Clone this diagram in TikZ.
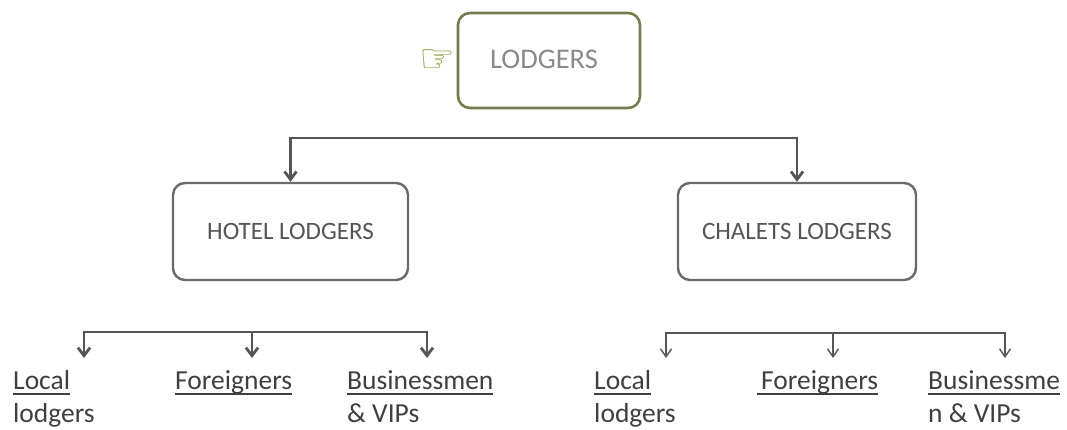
\documentclass[tikz,border=0pt]{standalone}
\usepackage{fontspec}
\setmainfont{Carlito}
\newfontfamily\symfont{DejaVu Sans}
\usetikzlibrary{arrows.meta}
\newsavebox\ulbox
\newcommand\myul[1]{\sbox\ulbox{#1}\rlap{\rule[-6pt]{\wd\ulbox}{1.6pt}}\usebox\ulbox}
\definecolor{linegray}{HTML}{555555}
\definecolor{boxgray}{HTML}{6A6A6A}
\definecolor{olivebox}{HTML}{767C4C}
\definecolor{lighttext}{HTML}{8A8A8A}
\definecolor{handgreen}{HTML}{8C9C3C}
\definecolor{labeltext}{HTML}{3F3F3F}
\tikzset{
  x=1pt, y=-1pt,
  topbox/.style={draw=olivebox, line width=2.6pt, rounded corners=12pt, minimum width=182pt, minimum height=95pt, inner sep=0pt},
  midbox/.style={draw=boxgray, line width=2.4pt, rounded corners=12pt, minimum width=235pt, minimum height=97pt, inner sep=0pt, text=linegray, font=\fontsize{25}{30}\selectfont},
  conn/.style={draw=linegray, line width=2.8pt, -{Straight Barb[length=8pt,width=12pt]}},
  thinconn/.style={draw=linegray, line width=1.4pt, -{Straight Barb[length=8pt,width=11pt]}},
  leaf/.style={anchor=base west, inner sep=0pt, align=left, text=labeltext, font=\fontsize{27.5}{33}\selectfont},
}
\begin{document}
\begin{tikzpicture}
\useasboundingbox (0,0) rectangle (1067,429);
% top node
\node[topbox] (root) at (549,60.5) {};
\node[text=lighttext, font=\fontsize{28.5}{34}\selectfont, inner sep=0pt] (rootlabel) at (544,59) {LODGERS};
\node[text=handgreen, font=\symfont\fontsize{40}{44}\selectfont, inner sep=0pt] (hand) at (437,61) {☞};
% middle boxes
\node[midbox] (hotel) at (290.5,231.5) {HOTEL LODGERS};
\node[midbox, minimum width=238pt] (chal) at (797,231.5) {CHALETS LODGERS};
% top bracket
\coordinate (tj) at (546,138);
\draw[conn] (tj) -| (hotel.north);
\draw[conn] (tj) -| (chal.north);
% left bottom bracket
\coordinate (lj) at (252,332);
\coordinate (la) at (84,358);
\coordinate (lb) at (252,358);
\coordinate (lc) at (427,358);
\draw[conn] (lj) -| (la);
\draw[conn] (lj) -- (lb);
\draw[conn] (lj) -| (lc);
% right bottom bracket
\coordinate (rj) at (833,333);
\coordinate (ra) at (666,358);
\coordinate (rb) at (833,358);
\coordinate (rc) at (1005,358);
\draw[thinconn] (rj) -| (ra);
\draw[thinconn] (rj) -- (rb);
\draw[thinconn] (rj) -| (rc);
% leaves (base anchor = baseline of last line)
\node[leaf] (l1) at (13,422) {\myul{Local}\\lodgers};
\node[leaf] (l2) at (175,389) {\myul{Foreigners}};
\node[leaf] (l3) at (347,422) {\myul{Businessmen}\\\& VIPs};
\node[leaf] (r1) at (594,422) {\myul{Local}\\lodgers};
\node[leaf] (r2) at (757,389) {\myul{\hspace{4pt}Foreigners}};
\node[leaf] (r3) at (928,422) {\myul{Businessme}\\n \& VIPs};
\end{tikzpicture}
\end{document}
